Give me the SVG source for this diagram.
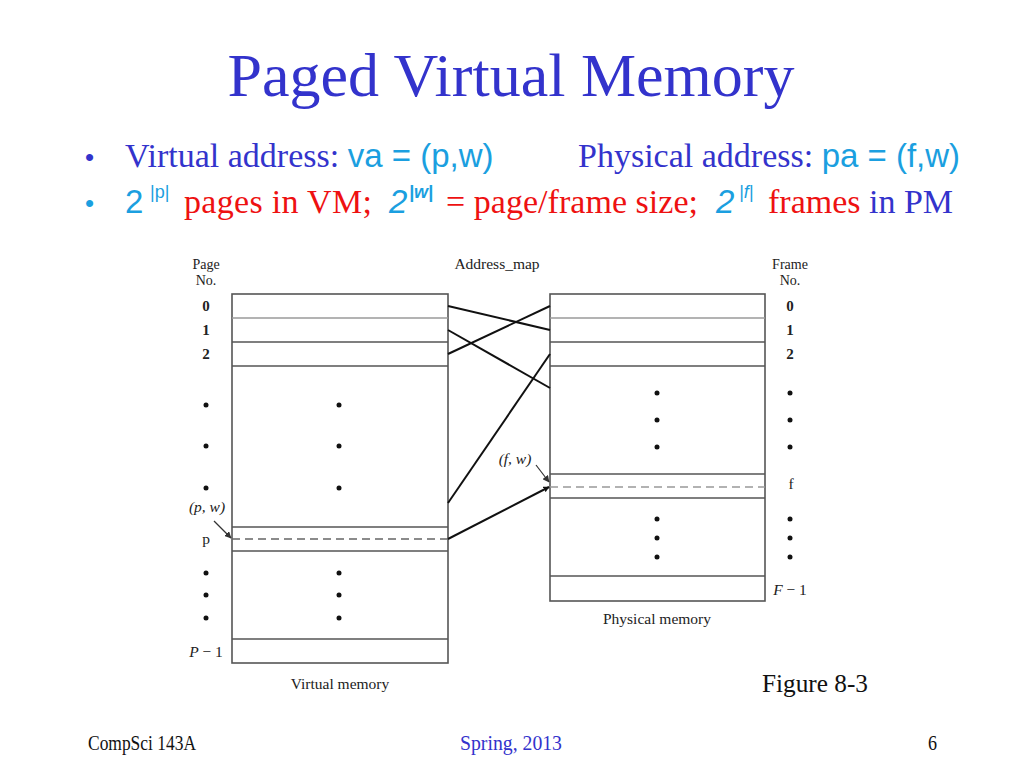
<svg xmlns="http://www.w3.org/2000/svg" width="1024" height="768" viewBox="0 0 1024 768">
<defs>
<style>
.serif{font-family:"Liberation Serif","Times New Roman",serif}
.sans{font-family:"Liberation Sans",Arial,sans-serif}
.blue{fill:#3333cc}
.cyan{fill:#1b9fe0}
.red{fill:#ee1111}
.box{fill:#ffffff;stroke:#555555;stroke-width:1.6}
.row{stroke:#555555;stroke-width:1.4}
.rowl{stroke:#9a9a9a;stroke-width:1.4}
.dash{stroke:#666666;stroke-width:1.4;stroke-dasharray:8 5}
.conn{stroke:#111111;stroke-width:2;fill:none}
.thin{stroke:#333333;stroke-width:1.2;fill:none}
.lbl{font-family:"Liberation Serif","Times New Roman",serif;font-size:15.5px;fill:#222222}
.hdr{font-family:"Liberation Serif","Times New Roman",serif;font-size:14px;fill:#222222}
.num{font-family:"Liberation Serif","Times New Roman",serif;font-size:15px;fill:#222222;font-weight:bold}
</style>
<marker id="ah" viewBox="0 0 10 10" refX="9" refY="5" markerWidth="6" markerHeight="6" orient="auto" markerUnits="userSpaceOnUse">
<path d="M0,0 L10,5 L0,10 Z" fill="#111111"/>
</marker>
<marker id="ahs" viewBox="0 0 10 10" refX="9" refY="5" markerWidth="7" markerHeight="7" orient="auto" markerUnits="userSpaceOnUse">
<path d="M0,0 L10,5 L0,10 Z" fill="#333333"/>
</marker>
</defs>
<rect width="1024" height="768" fill="#ffffff"/>

<g id="title">
<text class="serif blue" x="511" y="96" font-size="62" text-anchor="middle">Paged Virtual Memory</text>
</g>

<g id="bullet1">
<text class="sans blue" x="85" y="166" font-size="26">•</text>
<text class="serif blue" x="125" y="167" font-size="34">Virtual address: <tspan class="sans cyan" font-size="33">va = (p,w)</tspan></text>
<text class="serif blue" x="578" y="167" font-size="34">Physical address: <tspan class="sans cyan" font-size="33">pa = (f,w)</tspan></text>
</g>

<g id="bullet2">
<text class="sans cyan" x="85" y="212" font-size="26">•</text>
<text class="sans cyan" x="125" y="213" font-size="33">2</text>
<text class="sans cyan" x="150" y="198" font-size="18">|p|</text>
<text class="serif red" x="184" y="213" font-size="34" textLength="188" lengthAdjust="spacing">pages in VM;</text>
<text class="sans cyan" x="389" y="213" font-size="33" font-style="italic">2</text>
<text class="sans cyan" x="409" y="198" font-size="18" font-style="italic" font-weight="bold">|w|</text>
<text class="serif red" x="446" y="213" font-size="34" textLength="252" lengthAdjust="spacing">= page/frame size;</text>
<text class="sans cyan" x="716" y="213" font-size="33" font-style="italic">2</text>
<text class="sans cyan" x="739" y="198" font-size="18" font-style="italic">|f|</text>
<text class="serif" x="768" y="213" font-size="34"><tspan class="red">frames</tspan><tspan class="blue"> in PM</tspan></text>
</g>

<g id="virtual-memory">
<rect class="box" x="232" y="294" width="216" height="369"/>
<line class="rowl" x1="232" y1="318" x2="448" y2="318"/>
<line class="row" x1="232" y1="342" x2="448" y2="342"/>
<line class="row" x1="232" y1="366" x2="448" y2="366"/>
<line class="row" x1="232" y1="527" x2="448" y2="527"/>
<line class="dash" x1="232" y1="539" x2="448" y2="539"/>
<line class="row" x1="232" y1="551" x2="448" y2="551"/>
<line class="row" x1="232" y1="639" x2="448" y2="639"/>
<g fill="#111111">
<circle cx="339" cy="405" r="2.5"/><circle cx="339" cy="446" r="2.5"/><circle cx="339" cy="488" r="2.5"/>
<circle cx="339" cy="573" r="2.5"/><circle cx="339" cy="595" r="2.5"/><circle cx="339" cy="618" r="2.5"/>
</g>
<text class="lbl" x="340" y="689" text-anchor="middle" font-size="17">Virtual memory</text>
</g>

<g id="page-numbers">
<text class="hdr" x="206" y="269" text-anchor="middle">Page</text>
<text class="hdr" x="206" y="285" text-anchor="middle">No.</text>
<text class="num" x="206" y="311" text-anchor="middle">0</text>
<text class="num" x="206" y="335" text-anchor="middle">1</text>
<text class="num" x="206" y="359" text-anchor="middle">2</text>
<g fill="#111111">
<circle cx="206" cy="405" r="2.5"/><circle cx="206" cy="446" r="2.5"/><circle cx="206" cy="488" r="2.5"/>
<circle cx="206" cy="573" r="2.5"/><circle cx="206" cy="595" r="2.5"/><circle cx="206" cy="618" r="2.5"/>
</g>
<text class="lbl" x="207" y="512" text-anchor="middle" font-style="italic" font-size="17">(p, w)</text>
<text class="lbl" x="206" y="544" text-anchor="middle" font-size="17">p</text>
<text class="lbl" x="206" y="657" text-anchor="middle" font-size="17"><tspan font-style="italic">P</tspan> − 1</text>
</g>

<g id="physical-memory">
<rect class="box" x="550" y="294" width="215" height="307"/>
<line class="rowl" x1="550" y1="318" x2="765" y2="318"/>
<line class="row" x1="550" y1="342" x2="765" y2="342"/>
<line class="row" x1="550" y1="366" x2="765" y2="366"/>
<line class="row" x1="550" y1="474" x2="765" y2="474"/>
<line class="dash" x1="550" y1="487" x2="765" y2="487" style="stroke:#999999"/>
<line class="row" x1="550" y1="498" x2="765" y2="498"/>
<line class="row" x1="550" y1="576" x2="765" y2="576"/>
<g fill="#111111">
<circle cx="657" cy="393" r="2.5"/><circle cx="657" cy="420" r="2.5"/><circle cx="657" cy="447" r="2.5"/>
<circle cx="657" cy="519" r="2.5"/><circle cx="657" cy="538" r="2.5"/><circle cx="657" cy="557" r="2.5"/>
</g>
<text class="lbl" x="657" y="624" text-anchor="middle" font-size="17">Physical memory</text>
</g>

<g id="frame-numbers">
<text class="hdr" x="790" y="269" text-anchor="middle">Frame</text>
<text class="hdr" x="790" y="285" text-anchor="middle">No.</text>
<text class="num" x="790" y="311" text-anchor="middle">0</text>
<text class="num" x="790" y="335" text-anchor="middle">1</text>
<text class="num" x="790" y="359" text-anchor="middle">2</text>
<g fill="#111111">
<circle cx="790" cy="393" r="2.5"/><circle cx="790" cy="420" r="2.5"/><circle cx="790" cy="447" r="2.5"/>
<circle cx="790" cy="519" r="2.5"/><circle cx="790" cy="538" r="2.5"/><circle cx="790" cy="557" r="2.5"/>
</g>
<text class="lbl" x="791" y="489" text-anchor="middle" font-size="17">f</text>
<text class="lbl" x="790" y="595" text-anchor="middle" font-size="17"><tspan font-style="italic">F</tspan> − 1</text>
<text class="lbl" x="515" y="464" text-anchor="middle" font-style="italic" font-size="17">(f, w)</text>
</g>

<g id="address-map-label">
<text class="lbl" x="497" y="269" text-anchor="middle" font-size="16">Address_map</text>
</g>

<g id="connectors">
<line class="conn" x1="448" y1="306" x2="550" y2="330"/>
<line class="conn" x1="448" y1="330" x2="550" y2="388"/>
<line class="conn" x1="448" y1="354" x2="550" y2="306"/>
<line class="conn" x1="448" y1="503" x2="550" y2="354"/>
<line class="conn" x1="448" y1="539" x2="549" y2="487" marker-end="url(#ah)"/>
<line class="thin" x1="214" y1="521" x2="231" y2="538" marker-end="url(#ahs)"/>
<line class="thin" x1="536" y1="465" x2="549" y2="482" marker-end="url(#ahs)"/>
</g>

<g id="caption">
<text class="serif" x="762" y="692" font-size="25" fill="#111111" textLength="106" lengthAdjust="spacingAndGlyphs">Figure 8-3</text>
</g>

<g id="footer">
<text class="serif" x="88" y="750" font-size="21" fill="#111111" textLength="108" lengthAdjust="spacingAndGlyphs">CompSci 143A</text>
<text class="serif blue" x="460" y="750" font-size="21" textLength="102" lengthAdjust="spacingAndGlyphs">Spring, 2013</text>
<text class="serif" x="928" y="750" font-size="21" fill="#111111" textLength="9" lengthAdjust="spacingAndGlyphs">6</text>
</g>
</svg>
